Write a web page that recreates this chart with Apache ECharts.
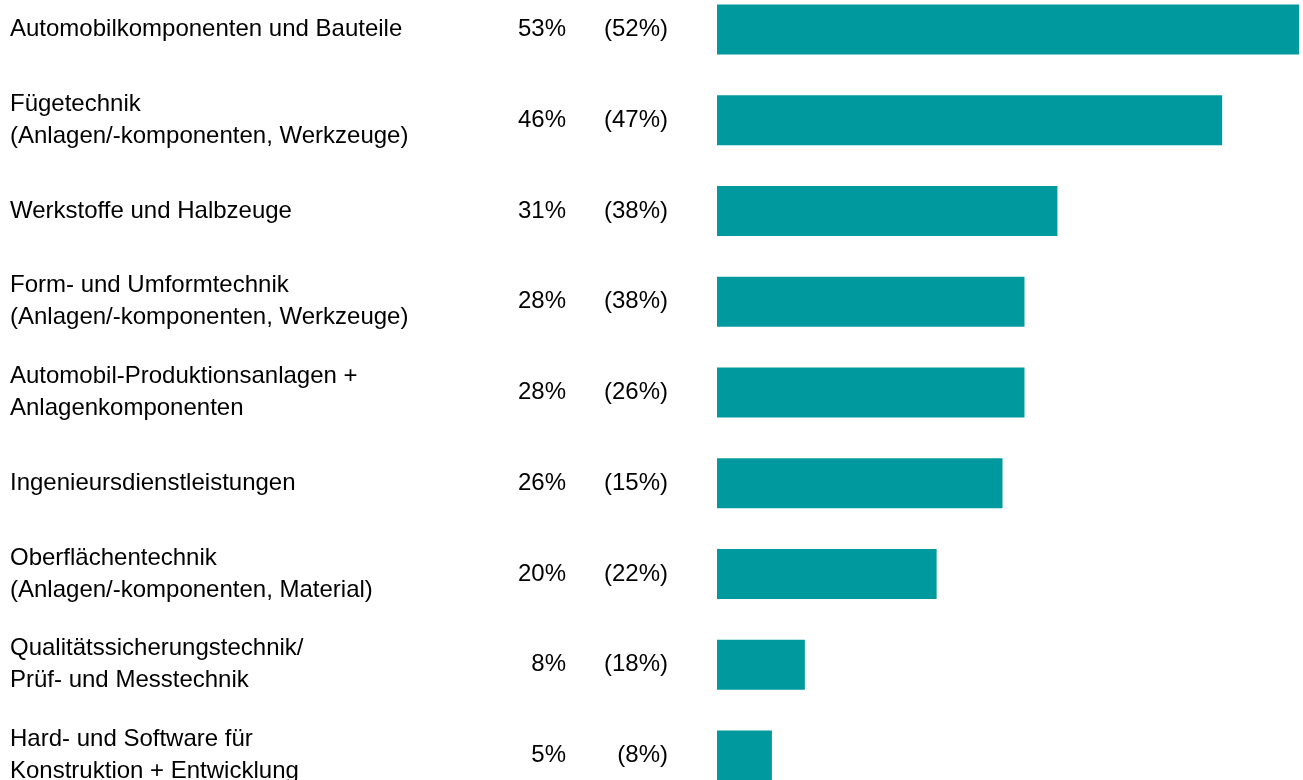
<!DOCTYPE html>
<html>
<head>
<meta charset="utf-8">
<script src="https://cdn.jsdelivr.net/npm/echarts@6/dist/echarts.min.js"></script>
<style>
  html, body { margin: 0; padding: 0; background: #fff; }
  #chart { width: 1303px; height: 780px; }
</style>
</head>
<body>
<div id="chart"></div>
<script>
const categories = [
  "Automobilkomponenten und Bauteile",
  "Fügetechnik\n(Anlagen/-komponenten, Werkzeuge)",
  "Werkstoffe und Halbzeuge",
  "Form- und Umformtechnik\n(Anlagen/-komponenten, Werkzeuge)",
  "Automobil-Produktionsanlagen +\nAnlagenkomponenten",
  "Ingenieursdienstleistungen",
  "Oberflächentechnik\n(Anlagen/-komponenten, Material)",
  "Qualitätssicherungstechnik/\nPrüf- und Messtechnik",
  "Hard- und Software für\nKonstruktion + Entwicklung",
];
const values = [53, 46, 31, 28, 28, 26, 20, 8, 5];
const prevValues = [52, 47, 38, 38, 26, 15, 22, 18, 8];

const font = "'Liberation Sans', Arial, sans-serif";
const textStyle = {
  color: "#000",
  fontFamily: font,
  fontSize: 24,
  lineHeight: 32,
};

const gridLeft = 717;

const categoryAxis = (margin, align, formatter) => ({
  type: "category",
  data: categories,
  inverse: true,
  position: "left",
  axisLine: { show: false },
  axisTick: { show: false },
  splitLine: { show: false },
  axisLabel: Object.assign({ margin, align, formatter, interval: 0 }, textStyle),
});

const chart = echarts.init(document.getElementById("chart"));
chart.setOption({
  animation: false,
  grid: {
    left: gridLeft,
    top: -16,
    width: 604,
    height: 817,
    outerBoundsMode: "none",
  },
  xAxis: {
    type: "value",
    min: 0,
    max: 55,
    show: false,
  },
  yAxis: [
    categoryAxis(gridLeft - 10, "left", (v) => v),
    categoryAxis(gridLeft - 566, "right", (v, i) => `${values[i]}%`),
    categoryAxis(gridLeft - 668, "right", (v, i) => `(${prevValues[i]}%)`),
  ],
  series: [
    {
      type: "bar",
      yAxisIndex: 0,
      barWidth: 50,
      itemStyle: { color: "#009a9e" },
      data: values,
    },
  ],
});
</script>
</body>
</html>
